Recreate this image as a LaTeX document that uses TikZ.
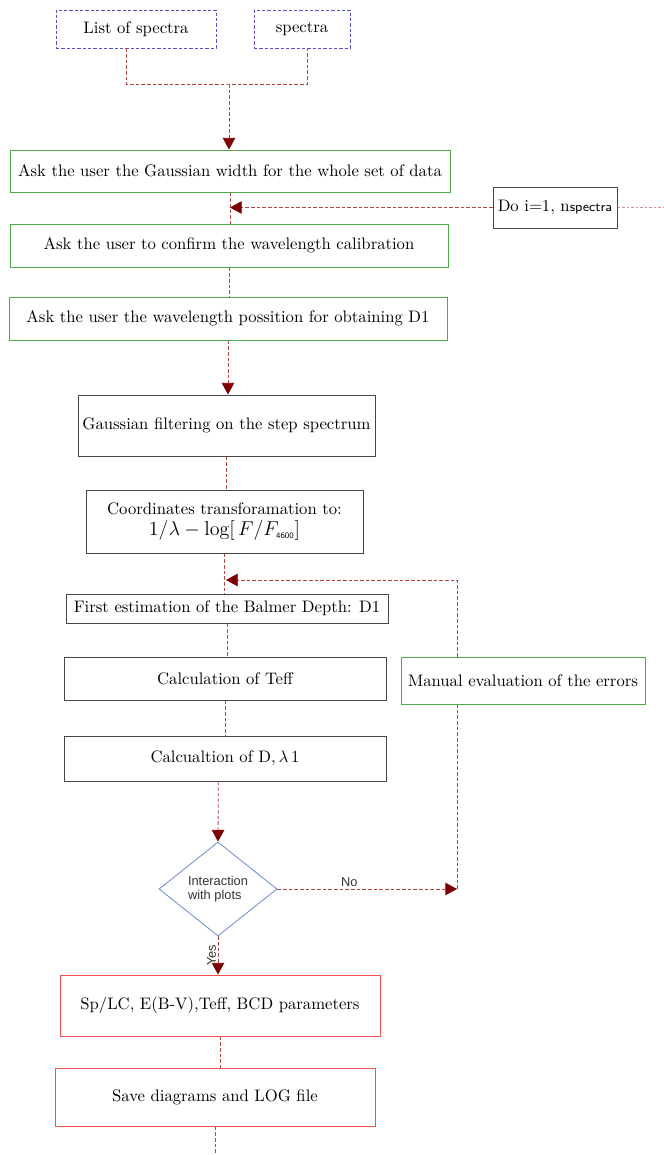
\documentclass[tikz,border=0pt]{standalone}
\usepackage{fontspec}
\newfontfamily\arialf{Liberation Sans}
\usetikzlibrary{arrows.meta,shapes.geometric,calc}
\definecolor{connc}{RGB}{180,70,70}
\definecolor{arrc}{RGB}{125,0,0}
\definecolor{bluec}{RGB}{80,80,200}
\definecolor{greenc}{RGB}{76,170,76}
\definecolor{redc}{RGB}{240,80,80}
\definecolor{grayc}{RGB}{70,70,70}
\definecolor{diac}{RGB}{110,140,205}
\tikzset{
  conn/.style={draw=connc, line width=0.5pt, dash pattern=on 2.2pt off 1.2pt},
  faint/.style={draw=connc!60, line width=0.5pt, dash pattern=on 1.5pt off 1.2pt},
  arr/.style={conn, -{Triangle[width=7.5pt,length=7pt,color=arrc]}},
  bbox/.style={draw=bluec, line width=0.5pt, dash pattern=on 2pt off 1.2pt, inner sep=0pt},
  gbox/.style={draw=greenc, line width=0.6pt, inner sep=0pt, fill=white},
  kbox/.style={draw=grayc, line width=0.6pt, inner sep=0pt, fill=white},
  rbox/.style={draw=redc, line width=0.6pt, inner sep=0pt, fill=white},
  lab/.style={font=\arialf\fontsize{7.7}{8.5}\selectfont, text=black!80},
}
\begin{document}
\begin{tikzpicture}[x=0.6pt,y=-0.6pt]
\useasboundingbox (0,0) rectangle (663,1155);
% nodes
\node[bbox, minimum width=96pt, minimum height=22.8pt] (los) at (136,29) {List of spectra};
\node[bbox, minimum width=57.6pt, minimum height=22.8pt] (spe) at (302,29) {spectra};
\node[gbox, minimum width=264pt, minimum height=25.2pt] (b1) at (230,171) {Ask the user the Gaussian width for the whole set of data};
\node[kbox, minimum width=74.4pt, minimum height=24.6pt] (do) at (555,207.5) {Do i=1, n{\sffamily\footnotesize spectra}};
\node[gbox, minimum width=262.8pt, minimum height=25.8pt] (b2) at (229,245.5) {Ask the user to confirm the wavelength calibration};
\node[gbox, minimum width=262.8pt, minimum height=25.8pt] (b3) at (228,318.5) {Ask the user the wavelength possition for obtaining D1};
\node[kbox, minimum width=178.2pt, minimum height=36.6pt] (gau) at (226.5,425.5) {Gaussian filtering on the step spectrum};
\node[kbox, minimum width=166.2pt, minimum height=37.8pt, align=center] (coo) at (224.5,521.5)
  {Coordinates transforamation to:\\[1pt] \mbox{\large $1/\lambda-\log\bigl[\,F/F_{\mbox{\tiny\sffamily 4600}}\bigr]$}};
\node[kbox, minimum width=193.2pt, minimum height=17.4pt] (fir) at (227,608.5) {First estimation of the Balmer Depth: D1};
\node[kbox, minimum width=193.2pt, minimum height=25.8pt] (tef) at (225,678.5) {Calculation of Teff};
\node[kbox, minimum width=193.2pt, minimum height=27pt] (dbx) at (225,758.5) {Calcualtion of D,\,$\lambda$\,1};
\node[gbox, minimum width=146.4pt, minimum height=28.2pt] (man) at (523,680.5) {Manual evaluation of the errors};
\node[draw=diac, line width=0.5pt, diamond, aspect=1.255, inner sep=0pt, minimum width=70.8pt, minimum height=56.4pt, lab, align=left] (dia) at (218,889) {Interaction\\with plots};
\node[rbox, minimum width=192pt, minimum height=36.6pt] (sp) at (220,1005.5) {Sp/LC, E(B-V),Teff, BCD parameters};
\node[rbox, minimum width=192pt, minimum height=34.8pt] (sav) at (215,1097) {Save diagrams and LOG file};
% coordinates
\coordinate (j) at (229,84);
\coordinate (doend) at (663,211);
\coordinate (cno) at (457,889);
\coordinate (cret) at (226,580);
\coordinate (fin) at (217,1155);
% connectors
\draw[conn] ([xshift=-6pt]los.south) |- (j) -| ([xshift=3pt]spe.south);
\draw[arr] (j) -- (j |- b1.north);
\draw[conn] (b1.south) -- (b1.south |- b2.north);
\draw[arr] (do.west) -- (do.west -| b1.south);
\draw[faint] (do.east) -- (doend |- do.east);
\draw[conn] (b2.south) -- (b2.south |- b3.north);
\draw[arr] (b3.south) -- (b3.south |- gau.north);
\draw[conn] (gau.south) -- (gau.south |- coo.north);
\draw[conn] (coo.south) -- (coo.south |- fir.north);
\draw[conn] (fir.south) -- (fir.south |- tef.north);
\draw[conn] (tef.south) -- (tef.south |- dbx.north);
\draw[arr] ([xshift=-4pt]dbx.south) -- (dia.north);
\draw[arr] (dia.south) -- node[midway, rotate=90, anchor=south, lab, inner sep=1pt] {Yes} (dia.south |- sp.north);
\draw[conn] (sp.south) -- (sp.south |- sav.north);
\draw[conn] (sav.south) -- (sav.south |- fin);
\draw[arr] (dia.east) -- node[pos=0.4, above, lab, inner sep=1pt] {No} (cno);
\draw[conn] (cno) -- (cno |- man.south);
\draw[arr] (cno |- man.north) |- (cret);
\end{tikzpicture}
\end{document}
